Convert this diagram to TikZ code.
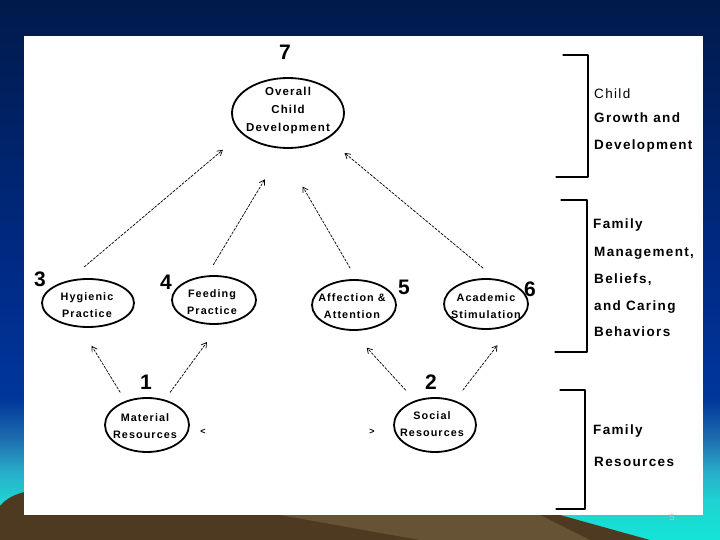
\documentclass[tikz,border=0pt]{standalone}
\usepackage{fontspec}
\setmainfont{Liberation Sans}
\newfontfamily\diagfont[LetterSpace=10]{Liberation Sans}
\usetikzlibrary{arrows.meta,shapes.geometric}

\definecolor{skyA}{RGB}{0,26,74}
\definecolor{skyB}{RGB}{0,32,96}
\definecolor{skyC}{RGB}{0,45,140}
\definecolor{skyD}{RGB}{0,55,155}
\definecolor{skyE}{RGB}{30,110,175}
\definecolor{skyF}{RGB}{40,170,200}
\definecolor{skyG}{RGB}{30,210,210}
\definecolor{skyH}{RGB}{20,228,215}
\definecolor{ground}{RGB}{78,58,32}
\definecolor{groundlight}{RGB}{102,82,52}
\definecolor{pagenum}{RGB}{190,200,210}

\pgfdeclareverticalshading{skyfade}{100bp}{color(0bp)=(skyH); color(25bp)=(skyH);
  color(28.7bp)=(skyG); color(31.5bp)=(skyF); color(34.3bp)=(skyE); color(38bp)=(skyD);
  color(47.2bp)=(skyC); color(65.7bp)=(skyB); color(75bp)=(skyA); color(100bp)=(skyA)}

\tikzset{
  circ/.style={ellipse, draw, line width=1.8pt, inner sep=0pt, outer sep=0pt},
  txt/.style={font=\diagfont\bfseries\fontsize{10.8}{17}\selectfont, align=center, inner sep=0pt},
  num/.style={font=\bfseries\fontsize{21}{21}\selectfont, inner sep=0pt},
  side/.style={font=\diagfont\bfseries\fontsize{13.5}{14}\selectfont, anchor=west, inner sep=0pt},
  link/.style={line width=.7pt, dash pattern=on 2.5pt off 1.5pt, -{Straight Barb[length=5pt,width=6pt]}},
  brace/.style={line width=1.3pt}
}

\begin{document}
\begin{tikzpicture}[x=1pt, y=-1pt, line cap=round, line join=round]

  % Nền
  \useasboundingbox (0,0) rectangle (720,540);
  \shade[shading=skyfade] (0,0) rectangle (720,540);
  \fill[ground] (0,540) -- (0,506) .. controls (8,496) and (20,492) .. (40,489)
    -- (400,490) -- (560,515) -- (650,540) -- cycle;
  \fill[groundlight] (280,515) -- (540,515) -- (590,540) -- (420,540) -- cycle;
  \fill[white] (24,36) rectangle (703,515);
  \node[font=\fontsize{9}{9}\selectfont, text=pagenum, inner sep=0pt] (page) at (672,517) {5};

  % Các hình elip
  \node[circ, minimum width=112pt, minimum height=70pt] (overall) at (288,113) {};
  \node[circ, minimum width=92pt, minimum height=48pt] (hyg) at (88,303) {};
  \node[circ, minimum width=84pt, minimum height=48pt] (feed) at (214,300) {};
  \node[circ, minimum width=84pt, minimum height=50pt] (affect) at (354,305) {};
  \node[circ, minimum width=84pt, minimum height=50pt] (acad) at (486,304) {};
  \node[circ, minimum width=84pt, minimum height=54pt] (mater) at (147,425) {};
  \node[circ, minimum width=82pt, minimum height=54pt] (social) at (435,425) {};

  % Chữ trong elip
  \node[txt, font=\diagfont\bfseries\fontsize{11.5}{18}\selectfont] (overalltxt) at (288,111) {Overall\\Child\\Development};
  \node[txt] (hygtxt) at (87,305) {Hygienic\\Practice};
  \node[txt] (feedtxt) at (212,302) {Feeding\\Practice};
  \node[txt] (affecttxt) at (352,306) {Affection \&\\Attention};
  \node[txt] (acadtxt) at (486,306) {Academic\\Stimulation};
  \node[txt] (matertxt) at (145,426) {Material\\Resources};
  \node[txt] (socialtxt) at (432,424) {Social\\Resources};

  % Số thứ tự
  \node[num] (n7) at (285,52) {7};
  \node[num] (n3) at (40,279) {3};
  \node[num] (n4) at (166,282) {4};
  \node[num] (n5) at (404,287) {5};
  \node[num] (n6) at (530,289) {6};
  \node[num] (n1) at (146,382) {1};
  \node[num] (n2) at (431,382) {2};

  % Dấu giữa hai nguồn lực
  \node[txt, font=\bfseries\fontsize{9}{9}\selectfont] (lt) at (203,432) {<};
  \node[txt, font=\bfseries\fontsize{9}{9}\selectfont] (gt) at (372,432) {>};

  % Các mũi tên
  \draw[link, shorten <=23pt, shorten >=25.6pt] (hyg.135.8) -- (overall.204.3);
  \draw[link, shorten <=13.6pt, shorten >=36.7pt] (feed.108.9) -- (overall.263.4);
  \draw[link, shorten <=14pt, shorten >=45pt] (affect.83) -- (overall.257.3);
  \draw[link, shorten <=18.5pt, shorten >=23pt] (acad.65.2) -- (overall.327.3);
  \draw[link, shorten <=11pt, shorten >=22.6pt] (mater.132.2) -- (hyg.251.8);
  \draw[link, shorten <=10pt, shorten >=22.7pt] (mater.55.7) -- (feed.285.3);
  \draw[link, shorten <=15pt, shorten >=24pt] (social.129.8) -- (affect.262.5);
  \draw[link, shorten <=14pt, shorten >=29.6pt] (social.51) -- (acad.329.8);

  % Ngoặc bên phải
  \draw[brace] (563,55) -- (588,55) -- (588,177) -- (556,177);
  \draw[brace] (561,200) -- (587,200) -- (587,352) -- (555,352);
  \draw[brace] (560,390) -- (585,390) -- (585,509) -- (556,509);

  % Nhãn bên phải
  \node[side, font=\diagfont\fontsize{13.5}{14}\selectfont] (child) at (594,94) {Child};
  \node[side] (growth) at (594,118) {Growth and};
  \node[side] (devel) at (594,146) {Development};
  \node[side] (fam1) at (593,225) {Family};
  \node[side] (manage) at (594,253) {Management,};
  \node[side] (belief) at (594,280) {Beliefs,};
  \node[side] (caring) at (594,307) {and Caring};
  \node[side] (behav) at (594,332) {Behaviors};
  \node[side] (fam2) at (593,431) {Family};
  \node[side] (resour) at (594,462) {Resources};

\end{tikzpicture}
\end{document}
